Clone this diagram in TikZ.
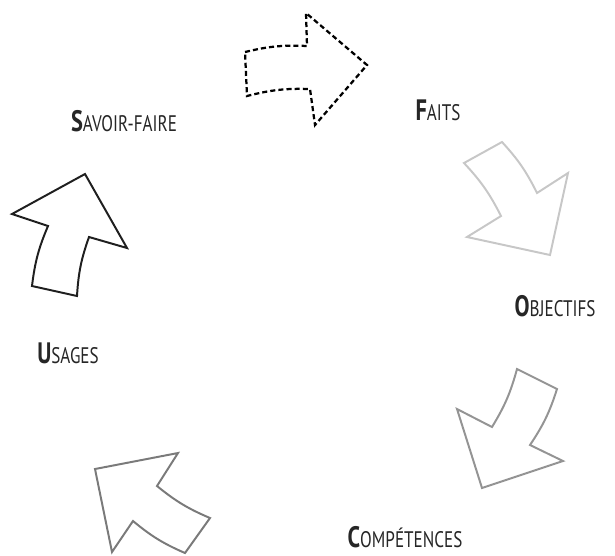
\documentclass[tikz,border=0pt]{standalone}
\usepackage{fontspec}
\newfontfamily\lblfont{PT Sans}[FakeStretch=0.76]
\newcommand{\stage}[2]{{\bfseries\fontsize{21}{21}\selectfont #1}{\fontsize{16}{16}\selectfont #2}}

\begin{document}
\begin{tikzpicture}[
    x=0.025cm,y=-0.025cm,
    blk/.style={line width=1.4pt,line join=miter},
    dash blk/.style={blk,line width=1.6pt,dash pattern=on 3.6pt off 2.2pt},
    lbl/.style={font=\lblfont,text=black!85,inner sep=0pt}
]
\useasboundingbox (0,0) rectangle (615,555);

% savoir-faire -> faits (dashed)
\draw[dash blk]
    (245,52) to[bend left=8] (307,46) -- (306,13) -- (367,65) -- (315,125)
    -- (310,89) to[bend right=8] (247,96) -- cycle;

% faits -> objectifs
\draw[blk,black!22]
    (502,142) to[bend left=8] (537,193) -- (568,173) -- (550,255) -- (467,237)
    -- (501,216) to[bend right=8] (464,163) -- cycle;

% objectifs -> competences
\draw[blk,black!42]
    (557,389) to[bend left=8] (530,445) -- (563,461) -- (482,488) -- (457,409)
    -- (492,427) to[bend right=8] (517,369) -- cycle;

% competences -> usages
\draw[blk,black!52]
    (185,553) to[bend left=8] (133,521) -- (112,552) -- (95,469) -- (178,453)
    -- (157,486) to[bend right=8] (210,518) -- cycle;

% usages -> savoir-faire
\draw[blk,black!88]
    (32,286) to[bend left=8] (48,226) -- (12,214) -- (85,174) -- (127,248)
    -- (89,237) to[bend right=8] (77,296) -- cycle;

% labels
\node[lbl] (savoir) at (124,121) {\stage{S}{AVOIR-FAIRE}};
\node[lbl] (faits) at (438,110) {\stage{F}{AITS}};
\node[lbl] (objectifs) at (555,306) {\stage{O}{BJECTIFS}};
\node[lbl] (competences) at (405,537) {\stage{C}{OMPÉTENCES}};
\node[lbl] (usages) at (68,353) {\stage{U}{SAGES}};

\end{tikzpicture}
\end{document}
